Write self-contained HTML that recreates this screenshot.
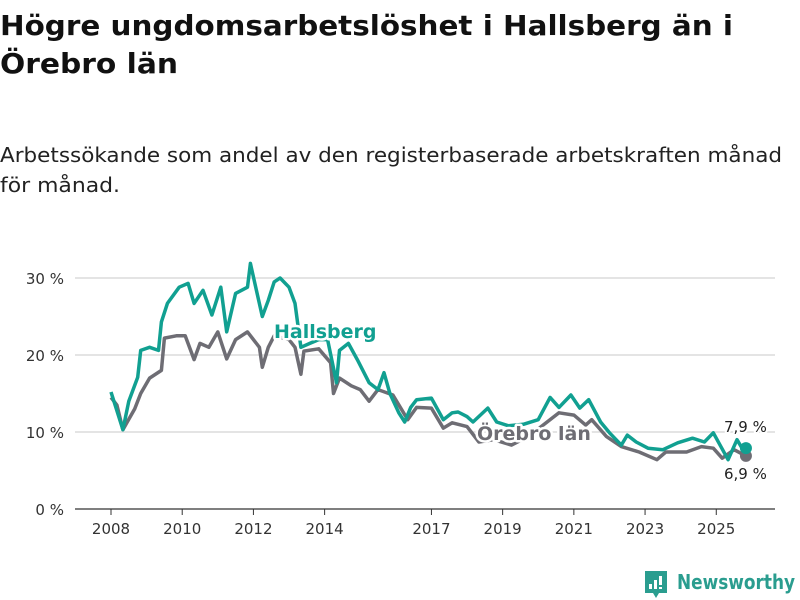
<!DOCTYPE html>
<html><head><meta charset="utf-8"><style>
body{margin:0;background:#fff;width:800px;height:600px;overflow:hidden}
svg{display:block}
text{font-family:"DejaVu Sans","Liberation Sans",sans-serif}
</style></head><body>
<svg id="chart" width="800" height="600" viewBox="0 0 800 600">
<text x="0" y="35" font-size="28" font-weight="bold" fill="#111" textLength="733" lengthAdjust="spacingAndGlyphs">Högre ungdomsarbetslöshet i Hallsberg än i</text>
<text x="0" y="73" font-size="28" font-weight="bold" fill="#111" textLength="178" lengthAdjust="spacingAndGlyphs">Örebro län</text>
<text x="0" y="162" font-size="20" fill="#222" textLength="782" lengthAdjust="spacingAndGlyphs">Arbetssökande som andel av den registerbaserade arbetskraften månad</text>
<text x="0" y="192" font-size="20" fill="#222" textLength="120" lengthAdjust="spacingAndGlyphs">för månad.</text>
<g id="grid"></g><g id="xaxis"></g><g id="series"></g><g id="labels"></g>
<g>
<path d="M645 571 h22 v22 h-8 l-3 5 l-3 -5 h-8 z" fill="#2a9d8f"/>
<rect x="649" y="584" width="3" height="5" fill="#fff"/><rect x="654" y="580" width="3" height="9" fill="#fff"/><rect x="659" y="576" width="3" height="9" fill="#fff"/><rect x="659" y="587" width="3" height="2" fill="#fff"/>
<text x="677" y="589" font-size="20" font-weight="bold" fill="#2a9d8f" textLength="118" lengthAdjust="spacingAndGlyphs">Newsworthy</text>
</g>
</svg>
<script>
const yTicks=[0,10,20,30];
const yTickLabels=["0 %","10 %","20 %","30 %"];
const xYears=[2008,2010,2012,2014,2017,2019,2021,2023,2025];
const hMonths=[0,4,6,9,10,13,16,17,19,23,26,28,31,34,37,39,42,46,47,49,51,53,55,57,60,62,64,67,70,73,76,77,80,83,87,90,92,94,97,99,101,103,108,112,115,117,120,122,127,130,134,139,144,148,151,155,158,161,165,168,172,174,177,181,186,191,196,200,203,208,211,213,214];
const hVals=[15.2,10.3,14,17.1,20.6,21,20.6,24.3,26.7,28.8,29.3,26.7,28.4,25.2,28.8,23,28,28.8,31.9,28.4,25,27.1,29.5,30,28.8,26.7,21,21.5,22,22,16.4,20.6,21.5,19.4,16.4,15.5,17.7,15,12.5,11.3,13.2,14.2,14.4,11.6,12.5,12.6,12,11.3,13.1,11.3,10.8,11,11.6,14.5,13.2,14.8,13.1,14.2,11.3,9.9,8.3,9.6,8.7,7.9,7.7,8.6,9.2,8.7,9.9,6.4,9,7.7,7.9];
const oMonths=[0,2,4,8,10,13,17,18,22,25,28,30,33,36,39,42,46,50,51,53,55,60,62,64,65,70,74,75,77,81,84,87,90,95,100,103,108,112,115,120,124,129,135,141,146,151,156,160,162,167,172,178,184,187,194,199,203,206,210,214];
const oVals=[14.5,13.5,10.3,13,15,17,18,22.2,22.5,22.5,19.4,21.5,21,23,19.5,22,23,21,18.4,21,22.5,22,21,17.5,20.5,20.8,19,15,17,16,15.5,14,15.5,14.8,11.6,13.2,13.1,10.5,11.2,10.7,8.7,9,8.3,9.5,11,12.5,12.2,10.9,11.6,9.4,8.1,7.4,6.4,7.4,7.4,8.1,7.9,6.6,7.7,6.9];
const NS='http://www.w3.org/2000/svg';
const X=m=>111+m*2.967;
const Y=v=>509-v*7.7;
function mk(tag,attrs,parent){const e=document.createElementNS(NS,tag);for(const k in attrs)e.setAttribute(k,attrs[k]);parent.appendChild(e);return e;}
const grid=document.getElementById('grid');
yTicks.forEach((t,i)=>{
  if(t>0){const l=mk('line',{x1:75,x2:775,y1:Y(t),y2:Y(t),stroke:'#dcdcdc','stroke-width':1.5},grid);
  
  }
  const tx=mk('text',{x:64,y:Y(t)+6,'font-size':15,fill:'#333','text-anchor':'end'},grid);
  tx.textContent=yTickLabels[i];
  
  
});
const xa=document.getElementById('xaxis');
const base=mk('line',{x1:75,x2:775,y1:509,y2:509,stroke:'#333','stroke-width':1.2},xa);


xYears.forEach(yr=>{
  const x=X((yr-2008)*12);
  mk('line',{x1:x,x2:x,y1:509,y2:515,stroke:'#333'},xa);
  const tx=mk('text',{x:x,y:534,'font-size':15,fill:'#333','text-anchor':'middle'},xa);
  tx.textContent=yr;
  
  
});
const sg=document.getElementById('series');
function line(ms,vs,col,name){
  const d=ms.map((m,i)=>(i?'L':'M')+X(m).toFixed(1)+' '+Y(vs[i]).toFixed(1)).join(' ');
  const p=mk('path',{d:d,fill:'none',stroke:col,'stroke-width':3.5,'stroke-linejoin':'round'},sg);
  
  
  const c=mk('circle',{cx:X(ms[ms.length-1]),cy:Y(vs[vs.length-1]),r:6,fill:col},sg);
  
  
}
line(oMonths,oVals,'#6e6d74','orebro');
line(hMonths,hVals,'#11a091','hallsberg');
const lg=document.getElementById('labels');
function lab(x,y,txt,col,name,size,bold){
  const t=mk('text',{x:x,y:y,'font-size':size,'font-weight':bold?'bold':'normal',fill:col,stroke:'#fff','stroke-width':bold?5:4,'paint-order':'stroke','stroke-linejoin':'round'},lg);
  t.textContent=txt;
  
  
}
lab(274,338,'Hallsberg','#11a091','hallsberg-label',19,true);
lab(477,440,'Örebro län','#6e6d74','orebro-label',19,true);
lab(724,432,'7,9 %','#222','hallsberg-end-value',15,false);
lab(724,479,'6,9 %','#222','orebro-end-value',15,false);
</script>
</body></html>
